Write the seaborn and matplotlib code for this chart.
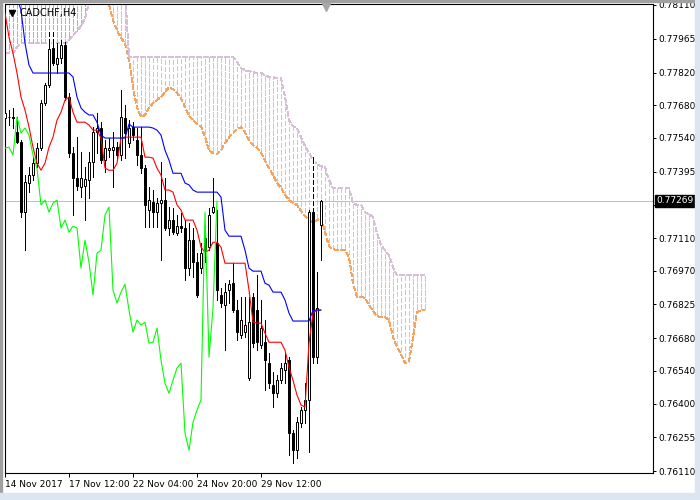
import numpy as np
import pandas as pd
import matplotlib
matplotlib.use("Agg")
import matplotlib.pyplot as plt
import matplotlib.transforms as mtransforms
from matplotlib.patches import Rectangle
import seaborn as sns

# CADCHF H4 candles, bar 0 = 14 Nov 2017
opens = [0.77625, 0.77629, 0.77629, 0.77564, 0.77521, 0.77221, 0.77346, 0.77380, 0.77431, 0.77496,
         0.77689, 0.77767, 0.77925, 0.77856, 0.77882, 0.77938, 0.77715, 0.77474, 0.77367, 0.77329,
         0.77333, 0.77359, 0.77435, 0.77564, 0.77582, 0.77444, 0.77487, 0.77487, 0.77500, 0.77466,
         0.77625, 0.77517, 0.77586, 0.77530, 0.77466, 0.77410, 0.77230, 0.77264, 0.77221, 0.77260,
         0.77273, 0.77153, 0.77187, 0.77131, 0.77161, 0.77153, 0.76981, 0.77101, 0.77006, 0.76981,
         0.77110, 0.77071, 0.77221, 0.77088, 0.76866, 0.76823, 0.76887, 0.76916, 0.76801, 0.76694,
         0.76706, 0.76509, 0.76857, 0.76801, 0.76651, 0.76663, 0.76573, 0.76479, 0.76444, 0.76500,
         0.76543, 0.76586, 0.76273, 0.76200, 0.76316, 0.76372, 0.76415, 0.77221, 0.76599, 0.77166]
highs = [0.77754, 0.77659, 0.77668, 0.77629, 0.77530, 0.77380, 0.77414, 0.77457, 0.77517, 0.77702,
         0.77775, 0.78002, 0.78002, 0.77946, 0.77959, 0.77950, 0.77732, 0.77500, 0.77543, 0.77478,
         0.77414, 0.77478, 0.77586, 0.77646, 0.77607, 0.77530, 0.77539, 0.77564, 0.77521, 0.77745,
         0.77681, 0.77616, 0.77607, 0.77582, 0.77586, 0.77423, 0.77329, 0.77316, 0.77282, 0.77435,
         0.77367, 0.77243, 0.77239, 0.77209, 0.77217, 0.77187, 0.77174, 0.77153, 0.77045, 0.77088,
         0.77135, 0.77239, 0.77367, 0.77230, 0.76895, 0.76916, 0.76929, 0.77002, 0.76844, 0.76857,
         0.76857, 0.76857, 0.76874, 0.76951, 0.76844, 0.76758, 0.76616, 0.76534, 0.76522, 0.76573,
         0.76616, 0.76599, 0.76286, 0.76342, 0.76385, 0.76487, 0.77230, 0.77457, 0.76963, 0.77273]
lows = [0.77586, 0.77595, 0.77582, 0.77517, 0.77200, 0.77058, 0.77307, 0.77359, 0.77414, 0.77487,
        0.77681, 0.77758, 0.77852, 0.77818, 0.77860, 0.77702, 0.77457, 0.77209, 0.77316, 0.77286,
        0.77187, 0.77282, 0.77371, 0.77474, 0.77431, 0.77392, 0.77457, 0.77329, 0.77444, 0.77444,
        0.77453, 0.77500, 0.77530, 0.77423, 0.77388, 0.77157, 0.77157, 0.77157, 0.77157, 0.77015,
        0.77144, 0.77123, 0.77127, 0.77123, 0.77135, 0.76929, 0.76951, 0.76942, 0.76857, 0.76959,
        0.77006, 0.77058, 0.77217, 0.76844, 0.76814, 0.76629, 0.76831, 0.76792, 0.76672, 0.76681,
        0.76685, 0.76500, 0.76642, 0.76629, 0.76638, 0.76457, 0.76466, 0.76385, 0.76427, 0.76487,
        0.76487, 0.76179, 0.76144, 0.76166, 0.76299, 0.76316, 0.76191, 0.76573, 0.76573, 0.77015]
closes = [0.77646, 0.77629, 0.77625, 0.77521, 0.77221, 0.77350, 0.77380, 0.77431, 0.77496, 0.77689,
          0.77767, 0.77920, 0.77860, 0.77882, 0.77938, 0.77715, 0.77474, 0.77367, 0.77333, 0.77367,
          0.77362, 0.77435, 0.77564, 0.77582, 0.77444, 0.77496, 0.77496, 0.77500, 0.77466, 0.77629,
          0.77560, 0.77582, 0.77552, 0.77466, 0.77410, 0.77252, 0.77273, 0.77221, 0.77260, 0.77273,
          0.77153, 0.77187, 0.77135, 0.77161, 0.77153, 0.76981, 0.77101, 0.77006, 0.76866, 0.77045,
          0.77058, 0.77209, 0.77243, 0.76887, 0.76831, 0.76878, 0.76912, 0.76801, 0.76706, 0.76758,
          0.76737, 0.76749, 0.76659, 0.76663, 0.76724, 0.76586, 0.76487, 0.76444, 0.76500, 0.76552,
          0.76573, 0.76273, 0.76200, 0.76320, 0.76372, 0.76415, 0.77221, 0.76599, 0.76810, 0.77269]

# Ichimoku lines
tenkan = [0.78075, 0.77972, 0.77903, 0.77818, 0.77715, 0.77659, 0.77586, 0.77500, 0.77431, 0.77401,
          0.77431, 0.77500, 0.77543, 0.77616, 0.77650, 0.77702, 0.77715, 0.77650, 0.77607, 0.77607,
          0.77607, 0.77595, 0.77573, 0.77573, 0.77539, 0.77410, 0.77401, 0.77401, 0.77431, 0.77539,
          0.77543, 0.77543, 0.77543, 0.77543, 0.77543, 0.77457, 0.77457, 0.77453, 0.77410, 0.77380,
          0.77316, 0.77316, 0.77307, 0.77252, 0.77230, 0.77187, 0.77187, 0.77187, 0.77144, 0.77071,
          0.77049, 0.77058, 0.77092, 0.77092, 0.77071, 0.77002, 0.77002, 0.77002, 0.77002, 0.77002,
          0.77002, 0.76887, 0.76749, 0.76745, 0.76745, 0.76702, 0.76663, 0.76663, 0.76663, 0.76663,
          0.76629, 0.76556, 0.76500, 0.76436, 0.76394, 0.76385, 0.76659, 0.76788, 0.76801, 0.76801]
kijun = [0.78238, 0.78217, 0.78195, 0.78144, 0.78088, 0.77946, 0.77852, 0.77818, 0.77818, 0.77818,
         0.77818, 0.77818, 0.77818, 0.77818, 0.77818, 0.77818, 0.77818, 0.77801, 0.77715, 0.77668,
         0.77650, 0.77638, 0.77638, 0.77607, 0.77552, 0.77539, 0.77539, 0.77539, 0.77539, 0.77539,
         0.77539, 0.77599, 0.77586, 0.77586, 0.77586, 0.77586, 0.77586, 0.77582, 0.77573, 0.77552,
         0.77487, 0.77444, 0.77388, 0.77388, 0.77388, 0.77346, 0.77338, 0.77316, 0.77307, 0.77307,
         0.77307, 0.77307, 0.77307, 0.77307, 0.77286, 0.77144, 0.77118, 0.77118, 0.77118, 0.77118,
         0.77058, 0.76981, 0.76968, 0.76968, 0.76968, 0.76916, 0.76908, 0.76878, 0.76878, 0.76878,
         0.76844, 0.76788, 0.76754, 0.76754, 0.76754, 0.76754, 0.76754, 0.76800, 0.76801, 0.76801]
senkou_a = [0.78220, 0.78220, 0.78220, 0.78220, 0.78220, 0.78220, 0.78220, 0.78220, 0.78220, 0.78220,
            0.78220, 0.78220, 0.78220, 0.78220, 0.78220, 0.78220, 0.78220, 0.78220, 0.78220, 0.78220,
            0.78220, 0.78238, 0.78217, 0.78195, 0.78165, 0.78140, 0.78110, 0.78045, 0.78002, 0.77968,
            0.77946, 0.77873, 0.77753, 0.77672, 0.77629, 0.77638, 0.77668, 0.77689, 0.77702, 0.77715,
            0.77736, 0.77758, 0.77749, 0.77732, 0.77711, 0.77672, 0.77633, 0.77616, 0.77599, 0.77590,
            0.77543, 0.77487, 0.77474, 0.77470, 0.77487, 0.77517, 0.77543, 0.77560, 0.77577, 0.77586,
            0.77564, 0.77530, 0.77509, 0.77496, 0.77478, 0.77444, 0.77410, 0.77380, 0.77346, 0.77325,
            0.77295, 0.77273, 0.77260, 0.77252, 0.77226, 0.77204, 0.77187, 0.77178, 0.77187, 0.77196,
            0.77135, 0.77075, 0.77062, 0.77058, 0.77058, 0.77058, 0.77028, 0.76916, 0.76857, 0.76857,
            0.76853, 0.76823, 0.76797, 0.76775, 0.76771, 0.76771, 0.76758, 0.76685, 0.76642, 0.76612,
            0.76573, 0.76578, 0.76685, 0.76792, 0.76801, 0.76801]
senkou_b = [0.77903, 0.77903, 0.77903, 0.77929, 0.77946, 0.77946, 0.77946, 0.77946, 0.77946, 0.77946,
            0.77946, 0.77946, 0.77946, 0.77946, 0.77946, 0.77946, 0.77959, 0.77981, 0.77998, 0.78019,
            0.78054, 0.78118, 0.78174, 0.78174, 0.78174, 0.78174, 0.78174, 0.78174, 0.78174, 0.78174,
            0.78174, 0.77886, 0.77886, 0.77886, 0.77886, 0.77886, 0.77886, 0.77886, 0.77886, 0.77886,
            0.77886, 0.77886, 0.77886, 0.77886, 0.77886, 0.77886, 0.77886, 0.77886, 0.77886, 0.77886,
            0.77886, 0.77886, 0.77886, 0.77886, 0.77886, 0.77886, 0.77886, 0.77886, 0.77865, 0.77839,
            0.77831, 0.77826, 0.77822, 0.77818, 0.77818, 0.77809, 0.77801, 0.77801, 0.77796, 0.77796,
            0.77715, 0.77616, 0.77590, 0.77582, 0.77543, 0.77504, 0.77474, 0.77444, 0.77427, 0.77418,
            0.77414, 0.77359, 0.77324, 0.77324, 0.77324, 0.77324, 0.77324, 0.77260, 0.77252, 0.77252,
            0.77221, 0.77213, 0.77200, 0.77131, 0.77080, 0.77058, 0.77037, 0.76985, 0.76951, 0.76951,
            0.76951, 0.76951, 0.76951, 0.76951, 0.76951, 0.76951]

price_ticks = [0.78110, 0.77965, 0.77820, 0.77680, 0.77540, 0.77395, 0.77250, 0.77110,
               0.76970, 0.76825, 0.76680, 0.76540, 0.76400, 0.76255, 0.76110]
time_ticks = [0, 16, 32, 48, 64]
time_labels = ["14 Nov 2017", "17 Nov 12:00", "22 Nov 04:00", "24 Nov 20:00", "29 Nov 12:00"]
last_price = 0.77269
chikou_shift = 26

sns.set_style("white")
plt.rcParams["font.family"] = ["DejaVu Sans"]
plt.rcParams["lines.scale_dashes"] = False

W, H = 700, 500
fig = plt.figure(figsize=(7, 5), dpi=100)
ax = fig.add_axes([4.5 / W, 27 / H, (653 - 4.5) / W, (473 - 4.5) / H])
ax.set_xlim(-0.125, 162)
ax.set_ylim(0.76102, 0.78112)

dot = (0, (2.9, 1.45))

# cloud: one dotted vertical per bar, colour by which span is on top
sa = np.array(senkou_a)
sb = np.array(senkou_b)
xc = np.arange(len(sa))
ylo, yhi = ax.get_ylim()
px_per_price = (473 - 4.5) / (yhi - ylo)
for up, col in [(sa >= sb, "#F4A460"), (sa < sb, "#D8BFD8")]:
    lo = np.minimum(sa, sb)[up]
    hi = np.maximum(sa, sb)[up]
    # keep the dots lined up in rows like the terminal draws them
    styles = [((((v - ylo) * px_per_price * 0.72) % 4.35), (2.9, 1.45)) for v in lo]
    ax.vlines(xc[up], lo, hi, colors=col, linestyles=styles, linewidth=0.72,
              antialiased=False, zorder=1)
ax.plot(xc, sa, color="#F4A460", lw=0.72, ls=dot, antialiased=False, zorder=1.2)
ax.plot(xc, sb, color="#D8BFD8", lw=0.72, ls=dot, antialiased=False, zorder=1.2)

# current price line
ax.axhline(last_price, color="#C0C0C0", lw=0.72, zorder=0.5)

# candles
o = np.array(opens); h = np.array(highs); l = np.array(lows); c = np.array(closes)
xb = np.arange(len(o))
ax.vlines(xb, l, h, colors="black", linewidth=0.72, antialiased=False, zorder=2)
# upper wick parts inside the cloud look dashed
top = np.maximum(o, c)
clo = np.minimum(sa, sb)[:len(o)]
chi = np.maximum(sa, sb)[:len(o)]
s0 = np.maximum(top, clo)
s1 = np.minimum(h, chi)
m = s1 > s0 + 0.00004
ax.vlines(xb[m], s0[m], s1[m], colors="white", linewidth=0.9, antialiased=False, zorder=2.1)
ax.vlines(xb[m], s0[m], s1[m], colors="black", linewidth=0.72, linestyles=dot,
          antialiased=False, zorder=2.2)
bull = c >= o
ax.bar(xb[bull], (c - o)[bull], bottom=o[bull], width=0.5, color="white",
       edgecolor="black", linewidth=0.72, zorder=3)
ax.bar(xb[~bull], (o - c)[~bull], bottom=c[~bull], width=0.5, color="black",
       edgecolor="black", linewidth=0.72, zorder=3)

# tenkan / kijun / chikou
df = pd.DataFrame({"bar": xb, "tenkan": tenkan, "kijun": kijun})
sns.lineplot(data=df, x="bar", y="tenkan", ax=ax, color="#FF0000", lw=0.8,
             estimator=None, sort=False, zorder=4)
sns.lineplot(data=df, x="bar", y="kijun", ax=ax, color="#0000FF", lw=0.8,
             estimator=None, sort=False, zorder=4)
chikou = pd.DataFrame({"bar": xb[:len(c) - chikou_shift], "close": c[chikou_shift:]})
sns.lineplot(data=chikou, x="bar", y="close", ax=ax, color="#00FF00", lw=0.8,
             estimator=None, sort=False, zorder=4)
ax.set_xlabel("")
ax.set_ylabel("")

# axes and ticks
for s in ax.spines.values():
    s.set_color("black")
    s.set_linewidth(0.8)
ax.yaxis.tick_right()
ax.set_yticks(price_ticks)
# the label under the current-price box is hidden in the terminal
ax.set_yticklabels(["" if abs(p - last_price) < 0.0003 else f"{p:.5f}" for p in price_ticks])
ax.set_xticks(time_ticks)
ax.set_xticklabels(time_labels, ha="left")
ax.tick_params(axis="y", length=2.5, width=0.72, pad=1.5, labelsize=6.5,
               colors="black", direction="out", right=True, left=False)
ax.tick_params(axis="x", length=3, width=0.72, pad=2, labelsize=6.5,
               colors="black", direction="out", bottom=True)

trans = mtransforms.blended_transform_factory(ax.transAxes, ax.transData)
ax.annotate(f"{last_price:.5f}", xy=(1.0, last_price), xycoords=trans,
            xytext=(2.6, 0), textcoords="offset points", ha="left", va="center",
            color="white", fontsize=6.5,
            bbox=dict(boxstyle="square,pad=0.2", fc="black", ec="black"),
            zorder=10, annotation_clip=False)

# symbol caption and markers
fig.text(20 / W, 1 - 13 / H, "CADCHF,H4", fontsize=7, color="black", ha="left", va="center")
fig.add_artist(plt.Line2D([11.5 / W], [1 - 12.5 / H], marker="v", ms=4.5, color="black",
                          transform=fig.transFigure))
fig.add_artist(plt.Line2D([326 / W], [1 - 6.5 / H], marker="v", ms=6, color="#A8A8A8",
                          transform=fig.transFigure))

# terminal window frame
fig.patches.extend([
    Rectangle((0, 1 - 2 / H), 1, 2 / H, color="#A0A0A0", transform=fig.transFigure),
    Rectangle((0, 0), 2 / W, 1, color="#A0A0A0", transform=fig.transFigure),
    Rectangle((0, 0), 1, 7 / H, color="#DCE6F2", transform=fig.transFigure),
    Rectangle((695 / W, 0), 5 / W, 1, color="#DCE6F2", transform=fig.transFigure),
])

fig.savefig("out.png", dpi=100)
